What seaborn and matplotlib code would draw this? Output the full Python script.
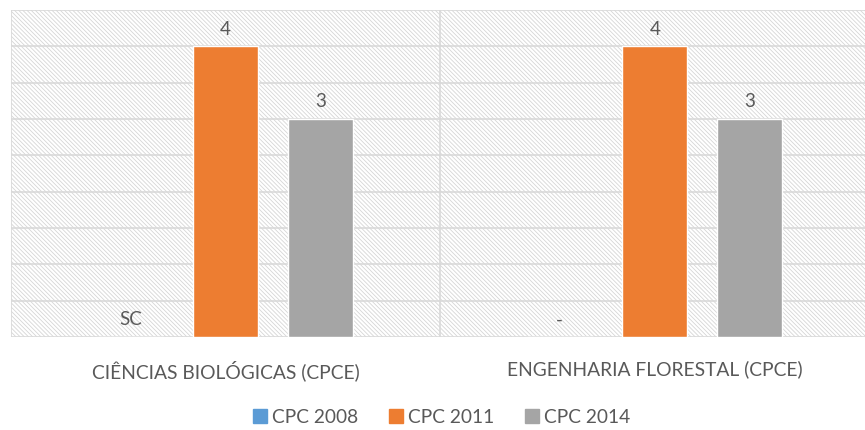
import matplotlib
matplotlib.use("Agg")
import matplotlib.pyplot as plt
import seaborn as sns
import pandas as pd
from matplotlib.patches import Rectangle
from matplotlib.lines import Line2D

cursos = ["CIÊNCIAS BIOLÓGICAS (CPCE)", "ENGENHARIA FLORESTAL (CPCE)"]
series = ["CPC 2008", "CPC 2011", "CPC 2014"]
cpc_2008 = [0, 0]
cpc_2011 = [4, 4]
cpc_2014 = [3, 3]
rotulos_2008 = ["SC", "-"]
cores = ["#5B9BD5", "#ED7D31", "#A5A5A5"]

df = pd.DataFrame({
    "curso": cursos * 3,
    "serie": [s for s in series for _ in cursos],
    "valor": cpc_2008 + cpc_2011 + cpc_2014,
})

sns.set_style("white")
plt.rcParams["font.family"] = ["Lato", "DejaVu Sans"]
plt.rcParams["hatch.color"] = "#d6d6d6"
plt.rcParams["hatch.linewidth"] = 0.6

fig = plt.figure(figsize=(8.65, 4.31), dpi=100)
ax = fig.add_axes([11 / 865, 93 / 431, 854 / 865, 327 / 431])

# fundo hachurado
ax.add_patch(Rectangle((0, 0), 1, 1, transform=ax.transAxes, facecolor="white",
                       edgecolor="#d6d6d6", hatch="\\" * 8, lw=0, zorder=0))

sns.barplot(data=df, x="curso", y="valor", hue="serie", palette=cores,
            width=0.664, gap=0.31, ax=ax, legend=False, zorder=3, saturation=1)

for y in [i * 0.5 for i in range(10)]:
    ax.axhline(y, color="#d9d9d9", lw=1.2, zorder=1)
ax.axvline(0.5, color="#d9d9d9", lw=1.2, zorder=1)
ax.axvline(-0.5, color="#d9d9d9", lw=1.2, zorder=1)

ax.set_ylim(0, 4.5)
ax.set_xlim(-0.5, 1.49)
ax.set_yticks([])
ax.set_xlabel("")
ax.set_ylabel("")
for s in ax.spines.values():
    s.set_visible(False)
ax.tick_params(axis="x", length=0, pad=16, labelsize=13.9, labelcolor="#595959")

conts = ax.containers
ax.bar_label(conts[0], labels=rotulos_2008, padding=7, fontsize=13.5, color="#595959")
ax.bar_label(conts[1], padding=7, fontsize=13.5, color="#595959")
ax.bar_label(conts[2], padding=7, fontsize=13.5, color="#595959")

handles = [Line2D([], [], marker="s", ls="", color=c, markersize=9.5) for c in cores]
fig.legend(handles, series, loc="center", bbox_to_anchor=(0.5 + 8 / 865, 1 - 418 / 431),
           ncol=3, frameon=False, fontsize=13.8, labelcolor="#595959",
           handletextpad=0.1, columnspacing=1.5, handlelength=1)

fig.savefig("out.png", dpi=100)
